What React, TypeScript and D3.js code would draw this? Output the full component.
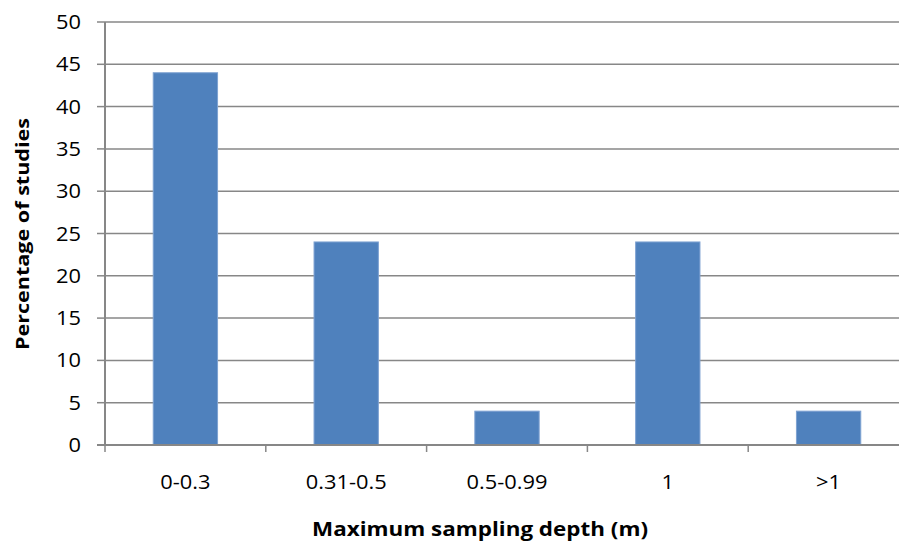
import * as d3 from 'd3';
import React, { useEffect, useRef } from 'react';

const categories = ['0-0.3', '0.31-0.5', '0.5-0.99', '1', '>1'];
const percentages = [44, 24, 4, 24, 4];
const yTicks = [0, 5, 10, 15, 20, 25, 30, 35, 40, 45, 50];

const width = 899;
const height = 541;

const App: React.FC = () => {
  const svgRef = useRef<SVGSVGElement>(null);

  useEffect(() => {
    if (!svgRef.current) return;
    const svg = d3.select(svgRef.current);
    svg.selectAll('*').remove();

    const left = 105;
    const right = 909;
    const top = 22;
    const bottom = 445;
    const font = 'Open Sans, Liberation Sans, sans-serif';
    const stretch = 1.12; // reference font is wider than Open Sans

    const x = d3.scaleBand<string>()
      .domain(categories)
      .range([left, right])
      .paddingInner(0.6)
      .paddingOuter(0.3);
    const step = (right - left) / categories.length;

    const y = d3.scaleLinear().domain([0, 50]).range([bottom, top]);

    // gridlines
    svg.append('g')
      .selectAll('line')
      .data(yTicks.filter(t => t > 0))
      .join('line')
      .attr('x1', left)
      .attr('x2', right)
      .attr('y1', d => y(d))
      .attr('y2', d => y(d))
      .attr('stroke', '#878787')
      .attr('stroke-width', 1.5);

    // bars
    svg.append('g')
      .selectAll('rect')
      .data(percentages)
      .join('rect')
      .attr('x', (d, i) => x(categories[i]) || 0)
      .attr('y', d => y(d))
      .attr('width', x.bandwidth())
      .attr('height', d => bottom - y(d))
      .attr('fill', '#4F81BD')
      .attr('stroke', '#7EA2D2')
      .attr('stroke-width', 1);

    // y axis
    svg.append('line')
      .attr('x1', left).attr('x2', left)
      .attr('y1', top).attr('y2', bottom)
      .attr('stroke', '#878787').attr('stroke-width', 2);

    svg.append('g')
      .selectAll('line')
      .data(yTicks)
      .join('line')
      .attr('x1', left - 8)
      .attr('x2', left)
      .attr('y1', d => y(d))
      .attr('y2', d => y(d))
      .attr('stroke', '#878787')
      .attr('stroke-width', 1.5);

    svg.append('g')
      .selectAll('text')
      .data(yTicks)
      .join('text')
      .attr('transform', d => `translate(81, ${y(d)}) scale(${stretch}, 1)`)
      .attr('dy', '0.36em')
      .attr('text-anchor', 'end')
      .attr('font-family', font)
      .attr('font-size', '19.5px')
      .attr('fill', '#000')
      .text(d => String(d));

    // x axis
    svg.append('line')
      .attr('x1', left - 8).attr('x2', right)
      .attr('y1', bottom).attr('y2', bottom)
      .attr('stroke', '#878787').attr('stroke-width', 2);

    svg.append('g')
      .selectAll('line')
      .data(d3.range(categories.length + 1))
      .join('line')
      .attr('x1', d => left + d * step)
      .attr('x2', d => left + d * step)
      .attr('y1', bottom)
      .attr('y2', bottom + 7)
      .attr('stroke', '#878787')
      .attr('stroke-width', 1.5);

    svg.append('g')
      .selectAll('text')
      .data(categories)
      .join('text')
      .attr('transform', d => `translate(${(x(d) || 0) + x.bandwidth() / 2}, 489) scale(${stretch}, 1)`)
      .attr('text-anchor', 'middle')
      .attr('font-family', font)
      .attr('font-size', '19.5px')
      .attr('fill', '#000')
      .text(d => d);

    // axis titles
    svg.append('text')
      .attr('x', 312)
      .attr('y', 536)
      .attr('textLength', 336)
      .attr('lengthAdjust', 'spacingAndGlyphs')
      .attr('font-family', font)
      .attr('font-size', '19px')
      .attr('font-weight', 'bold')
      .attr('fill', '#000')
      .text('Maximum sampling depth (m)');

    svg.append('text')
      .attr('transform', `translate(29, 350) rotate(-90)`)
      .attr('textLength', 232)
      .attr('lengthAdjust', 'spacingAndGlyphs')
      .attr('font-family', font)
      .attr('font-size', '18px')
      .attr('font-weight', 'bold')
      .attr('fill', '#000')
      .text('Percentage of studies');
  }, []);

  return (
    <svg
      ref={svgRef}
      width={width}
      height={height}
      style={{ position: 'absolute', left: 0, top: 0, background: '#fff' }}
    />
  );
};

export default App;
